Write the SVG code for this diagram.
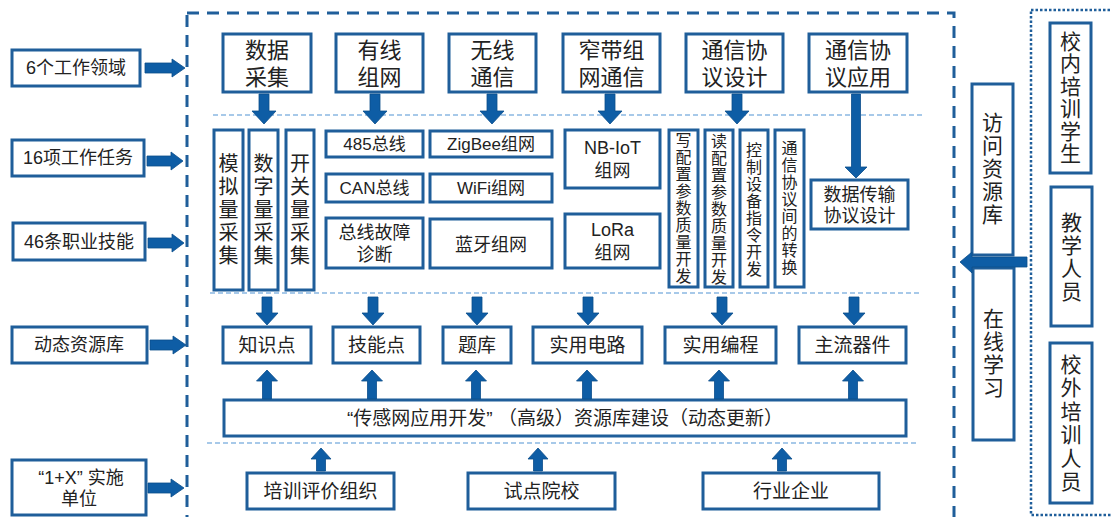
<svg xmlns="http://www.w3.org/2000/svg" width="1112" height="517" viewBox="0 0 1112 517">
<style>
.box{fill:#fff;stroke:#1F5E9A;stroke-width:3}
.t{font-family:"Liberation Sans","Noto Sans CJK SC",sans-serif;fill:#222;text-anchor:middle}
.f22{font-size:22px}.f21{font-size:21px}.f20{font-size:20px}.f19{font-size:19px}.f18{font-size:18px}.f17{font-size:17px}.f16{font-size:16px}
.arr{fill:#0E5DA5;stroke:#0B4E8C;stroke-width:0.8}
.sep{stroke:#8AB8E2;stroke-width:1.5;stroke-dasharray:5 3;fill:none}
.frame{fill:none;stroke:#1F5E9A;stroke-width:3;stroke-dasharray:12 8}
.dot{fill:none;stroke:#1F5E9A;stroke-width:2.5;stroke-dasharray:2.5 2}
</style>
<rect id="frame-main" class="frame" x="187" y="13" width="767" height="520"/>
<rect id="frame-users" class="dot" x="1031" y="10" width="100" height="505"/>
<g id="separators">
<line class="sep" x1="213" y1="115" x2="923" y2="115"/>
<line class="sep" x1="210" y1="293" x2="920" y2="293"/>
<line class="sep" x1="207" y1="443" x2="916" y2="443"/>
</g>
<g id="left-labels">
<g id="l1"><rect class="box" x="12" y="50" width="128" height="36"/><text class="t f18" x="76" y="74">6个工作领域</text></g>
<g id="l2"><rect class="box" x="12" y="140" width="132" height="36"/><text class="t f18" x="78" y="164">16项工作任务</text></g>
<g id="l3"><rect class="box" x="13" y="223" width="132" height="37"/><text class="t f18" x="79" y="248">46条职业技能</text></g>
<g id="l4"><rect class="box" x="12" y="327" width="135" height="36"/><text class="t f18" x="79" y="351">动态资源库</text></g>
<g id="l5"><rect class="box" x="12" y="460" width="134" height="55"/><text class="t f18" x="81" y="484">“1+X” 实施</text><text class="t f18" x="79" y="505">单位</text></g>
</g>
<g id="top-row">
<g id="n-sjcj"><rect class="box" x="223" y="34" width="88" height="58"/><text class="t f22" x="267" y="58">数据</text><text class="t f22" x="267" y="85">采集</text></g>
<g id="n-yxzw"><rect class="box" x="336" y="34" width="87" height="58"/><text class="t f22" x="379.5" y="58">有线</text><text class="t f22" x="379.5" y="85">组网</text></g>
<g id="n-wxtx"><rect class="box" x="449" y="34" width="87" height="58"/><text class="t f22" x="492.5" y="58">无线</text><text class="t f22" x="492.5" y="85">通信</text></g>
<g id="n-zdzw"><rect class="box" x="563" y="34" width="97" height="58"/><text class="t f22" x="611.5" y="58">窄带组</text><text class="t f22" x="611.5" y="85">网通信</text></g>
<g id="n-txsj"><rect class="box" x="686" y="34" width="97" height="58"/><text class="t f22" x="734.5" y="58">通信协</text><text class="t f22" x="734.5" y="85">议设计</text></g>
<g id="n-txyy"><rect class="box" x="809" y="34" width="98" height="58"/><text class="t f22" x="858" y="58">通信协</text><text class="t f22" x="858" y="85">议应用</text></g>
</g>
<g id="second-row">
<g id="n-mnl"><rect class="box" x="214" y="130" width="29" height="160"/><text class="t f20" x="228.5"><tspan x="228.5" y="171">模</tspan><tspan x="228.5" y="194">拟</tspan><tspan x="228.5" y="217">量</tspan><tspan x="228.5" y="240">采</tspan><tspan x="228.5" y="263">集</tspan></text></g>
<g id="n-szl"><rect class="box" x="249" y="130" width="29" height="160"/><text class="t f20" x="263.5"><tspan x="263.5" y="171">数</tspan><tspan x="263.5" y="194">字</tspan><tspan x="263.5" y="217">量</tspan><tspan x="263.5" y="240">采</tspan><tspan x="263.5" y="263">集</tspan></text></g>
<g id="n-kgl"><rect class="box" x="286" y="130" width="28" height="160"/><text class="t f20" x="300"><tspan x="300" y="171">开</tspan><tspan x="300" y="194">关</tspan><tspan x="300" y="217">量</tspan><tspan x="300" y="240">采</tspan><tspan x="300" y="263">集</tspan></text></g>
<g id="n-485"><rect class="box" x="326" y="131" width="97" height="26"/><text class="t f17" x="374.5" y="150">485总线</text></g>
<g id="n-can"><rect class="box" x="326" y="174" width="97" height="28"/><text class="t f17" x="374.5" y="194">CAN总线</text></g>
<g id="n-gzzd"><rect class="box" x="326" y="218" width="97" height="50"/><text class="t f18" x="374.5" y="239">总线故障</text><text class="t f18" x="374.5" y="261">诊断</text></g>
<g id="n-zigbee"><rect class="box" x="430" y="131" width="122" height="26"/><text class="t f17" x="491" y="150">ZigBee组网</text></g>
<g id="n-wifi"><rect class="box" x="430" y="174" width="122" height="28"/><text class="t f17" x="491" y="194">WiFi组网</text></g>
<g id="n-ly"><rect class="box" x="430" y="219" width="122" height="49"/><text class="t f18" x="491" y="251">蓝牙组网</text></g>
<g id="n-nbiot"><rect class="box" x="565" y="130" width="95" height="58"/><text class="t f18" x="612.5" y="154">NB-IoT</text><text class="t f18" x="612.5" y="177">组网</text></g>
<g id="n-lora"><rect class="box" x="565" y="214" width="95" height="54"/><text class="t f18" x="612.5" y="236">LoRa</text><text class="t f18" x="612.5" y="259">组网</text></g>
<g id="n-xpz"><rect class="box" x="669" y="130" width="29" height="157"/><text class="t f16" x="683.5"><tspan x="683.5" y="146">写</tspan><tspan x="683.5" y="163">配</tspan><tspan x="683.5" y="180">置</tspan><tspan x="683.5" y="197">参</tspan><tspan x="683.5" y="214">数</tspan><tspan x="683.5" y="231">质</tspan><tspan x="683.5" y="248">量</tspan><tspan x="683.5" y="265">开</tspan><tspan x="683.5" y="282">发</tspan></text></g>
<g id="n-dpz"><rect class="box" x="705" y="130" width="28" height="157"/><text class="t f16" x="719"><tspan x="719" y="147">读</tspan><tspan x="719" y="164">配</tspan><tspan x="719" y="181">置</tspan><tspan x="719" y="198">参</tspan><tspan x="719" y="215">数</tspan><tspan x="719" y="232">质</tspan><tspan x="719" y="249">量</tspan><tspan x="719" y="266">开</tspan><tspan x="719" y="283">发</tspan></text></g>
<g id="n-kz"><rect class="box" x="740" y="130" width="28" height="157"/><text class="t f16" x="754"><tspan x="754" y="156">控</tspan><tspan x="754" y="173">制</tspan><tspan x="754" y="190">设</tspan><tspan x="754" y="207">备</tspan><tspan x="754" y="224">指</tspan><tspan x="754" y="241">令</tspan><tspan x="754" y="258">开</tspan><tspan x="754" y="275">发</tspan></text></g>
<g id="n-zh"><rect class="box" x="775" y="130" width="29" height="157"/><text class="t f16" x="789.5"><tspan x="789.5" y="154">通</tspan><tspan x="789.5" y="171">信</tspan><tspan x="789.5" y="188">协</tspan><tspan x="789.5" y="205">议</tspan><tspan x="789.5" y="222">间</tspan><tspan x="789.5" y="239">的</tspan><tspan x="789.5" y="256">转</tspan><tspan x="789.5" y="273">换</tspan></text></g>
<g id="n-sjcs"><rect class="box" x="811" y="180" width="97" height="49"/><text class="t f18" x="859.5" y="201">数据传输</text><text class="t f18" x="859.5" y="222">协议设计</text></g>
</g>
<g id="third-row">
<g id="n-zsd"><rect class="box" x="223" y="327" width="88" height="36"/><text class="t f19" x="267" y="352">知识点</text></g>
<g id="n-jnd"><rect class="box" x="333" y="327" width="87" height="36"/><text class="t f19" x="376.5" y="352">技能点</text></g>
<g id="n-tk"><rect class="box" x="443" y="327" width="68" height="36"/><text class="t f19" x="477" y="352">题库</text></g>
<g id="n-sydl"><rect class="box" x="533" y="327" width="109" height="36"/><text class="t f19" x="587.5" y="352">实用电路</text></g>
<g id="n-sybc"><rect class="box" x="665" y="327" width="111" height="36"/><text class="t f19" x="720.5" y="352">实用编程</text></g>
<g id="n-zlqj"><rect class="box" x="799" y="327" width="107" height="36"/><text class="t f19" x="852.5" y="352">主流器件</text></g>
</g>
<g id="n-bar"><rect class="box" x="224" y="400" width="682" height="36"/><text class="t f19" x="565" y="425">“传感网应用开发” （高级）资源库建设（动态更新）</text></g>
<g id="bottom-row">
<g id="n-pxpj"><rect class="box" x="247" y="473" width="147" height="36"/><text class="t f19" x="320.5" y="498">培训评价组织</text></g>
<g id="n-sdyx"><rect class="box" x="468" y="473" width="147" height="36"/><text class="t f19" x="541.5" y="498">试点院校</text></g>
<g id="n-hyqy"><rect class="box" x="703" y="473" width="176" height="36"/><text class="t f19" x="791" y="498">行业企业</text></g>
</g>
<g id="right-col">
<g id="n-fwzyk"><rect class="box" x="972" y="84" width="41" height="171"/><text class="t f21" x="992.5"><tspan x="992.5" y="130">访</tspan><tspan x="992.5" y="153">问</tspan><tspan x="992.5" y="176">资</tspan><tspan x="992.5" y="199">源</tspan><tspan x="992.5" y="222">库</tspan></text></g>
<g id="n-zxxx"><rect class="box" x="973" y="268" width="41" height="172"/><text class="t f21" x="993.5"><tspan x="993.5" y="326">在</tspan><tspan x="993.5" y="349">线</tspan><tspan x="993.5" y="372">学</tspan><tspan x="993.5" y="395">习</tspan></text></g>
<g id="n-xnpx"><rect class="box" x="1050" y="23" width="41" height="150"/><text class="t f21" x="1070.5"><tspan x="1070.5" y="49">校</tspan><tspan x="1070.5" y="71">内</tspan><tspan x="1070.5" y="94">培</tspan><tspan x="1070.5" y="116">训</tspan><tspan x="1070.5" y="139">学</tspan><tspan x="1070.5" y="161">生</tspan></text></g>
<g id="n-jxry"><rect class="box" x="1051" y="187" width="41" height="139"/><text class="t f21" x="1071.5"><tspan x="1071.5" y="230">教</tspan><tspan x="1071.5" y="253">学</tspan><tspan x="1071.5" y="276">人</tspan><tspan x="1071.5" y="299">员</tspan></text></g>
<g id="n-xwpx"><rect class="box" x="1050" y="343" width="42" height="160"/><text class="t f21" x="1071"><tspan x="1071" y="372">校</tspan><tspan x="1071" y="395">外</tspan><tspan x="1071" y="419">培</tspan><tspan x="1071" y="442">训</tspan><tspan x="1071" y="466">人</tspan><tspan x="1071" y="489">员</tspan></text></g>
</g>
<g id="connectors">
<path class="arr" d="M145 63H172V59L185 68L172 77V73H145Z"/>
<path class="arr" d="M147 156H171V152L183 161L171 170V166H147Z"/>
<path class="arr" d="M148 238H172V234L184 243L172 252V248H148Z"/>
<path class="arr" d="M150 340H173V336L186 345L173 354V350H150Z"/>
<path class="arr" d="M148 483H171V479L184 488L171 497V493H148Z"/>
<path class="arr" d="M259 94H269V111H276L264 124L252 111H259Z"/>
<path class="arr" d="M370 94H380V111H387L375 124L363 111H370Z"/>
<path class="arr" d="M487 94H497V111H504L492 124L480 111H487Z"/>
<path class="arr" d="M605 94H615V111H622L610 124L598 111H605Z"/>
<path class="arr" d="M732 94H742V111H749L737 124L725 111H732Z"/>
<path class="arr" d="M851.5 94H860.5V167H867L856 178L845 167H851.5Z"/>
<path class="arr" d="M262 297H272V313H278L267 325L256 313H262Z"/>
<path class="arr" d="M368 297H378V313H384L373 325L362 313H368Z"/>
<path class="arr" d="M472 297H482V313H488L477 325L466 313H472Z"/>
<path class="arr" d="M583 297H593V313H599L588 325L577 313H583Z"/>
<path class="arr" d="M717 297H727V313H733L722 325L711 313H717Z"/>
<path class="arr" d="M849 297H859V313H865L854 325L843 313H849Z"/>
<path class="arr" d="M262.5 399V381H256.5L267 370L277.5 381H271.5V399Z"/>
<path class="arr" d="M367.5 399V381H361.5L372 370L382.5 381H376.5V399Z"/>
<path class="arr" d="M471.5 399V381H465.5L476 370L486.5 381H480.5V399Z"/>
<path class="arr" d="M582.5 399V381H576.5L587 370L597.5 381H591.5V399Z"/>
<path class="arr" d="M714.5 399V381H708.5L719 370L729.5 381H723.5V399Z"/>
<path class="arr" d="M848.5 399V381H842.5L853 370L863.5 381H857.5V399Z"/>
<path class="arr" d="M316.5 471V459H311L321 448L331 459H325.5V471Z"/>
<path class="arr" d="M533.5 471V459H528L538 448L548 459H542.5V471Z"/>
<path class="arr" d="M777.5 471V459H772L782 448L792 459H786.5V471Z"/>
<path class="arr" d="M1027 257H972V252L960 262L972 273V267H1027Z"/>
</g>
</svg>
